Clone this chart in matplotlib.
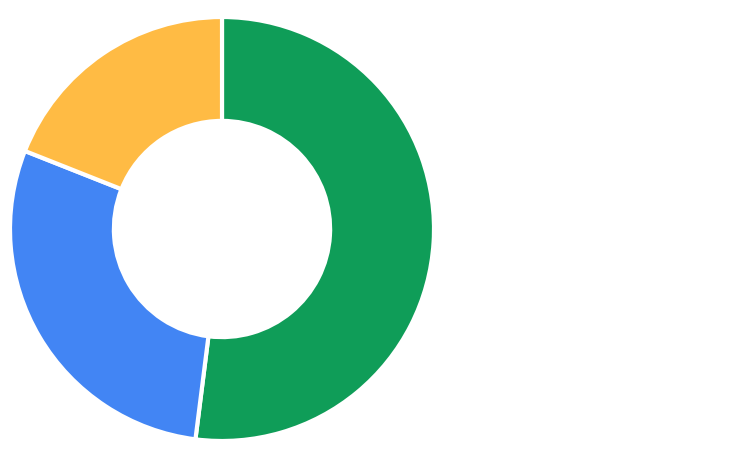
import matplotlib
matplotlib.use('Agg')
from matplotlib import pyplot as plt

# slice data, clockwise from 12 o'clock
labels = ['Green', 'Blue', 'Yellow']
values = [52, 29, 19]
colors = ['#0F9D58', '#4285F4', '#FFBB44']

W, H = 756, 467
cx, cy, r = 222, 229, 212

fig = plt.figure(figsize=(W / 100, H / 100), dpi=100)
ax = fig.add_axes([(cx - r) / W, (H - cy - r) / H, 2 * r / W, 2 * r / H])
ax.pie(values, colors=colors, startangle=90, counterclock=False,
       wedgeprops=dict(width=0.49, edgecolor='white', linewidth=3))
ax.set_xlim(-1, 1)
ax.set_ylim(-1, 1)
ax.set_aspect('equal')
ax.axis('off')

fig.savefig('out.png', dpi=100)
